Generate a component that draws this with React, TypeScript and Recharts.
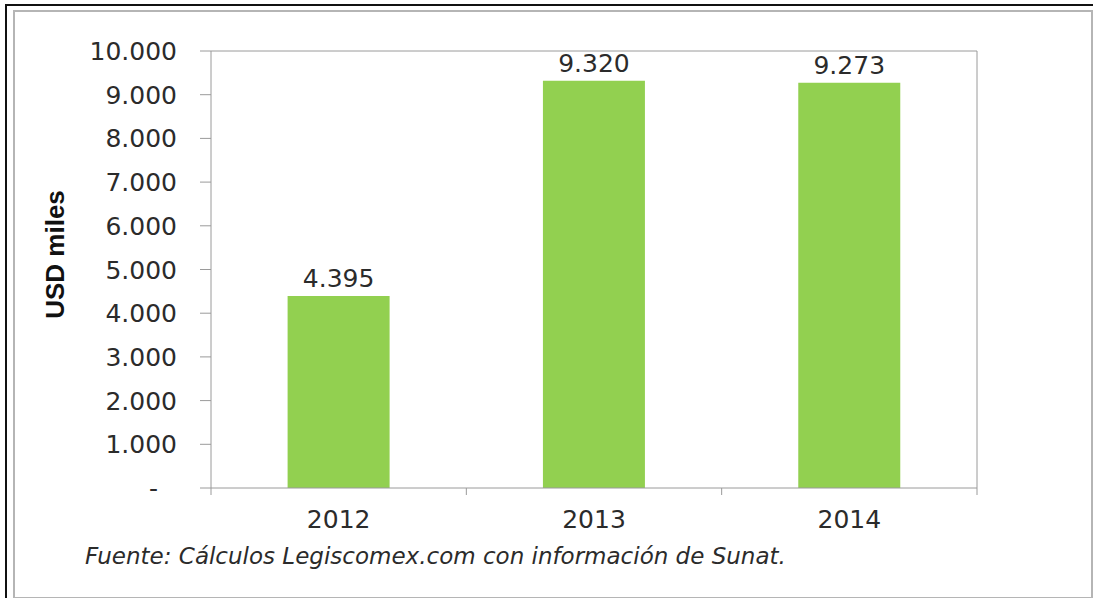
import { BarChart, Bar, XAxis, YAxis, LabelList, ReferenceLine } from 'recharts'

const years = ['2012', '2013', '2014']
const values = [4395, 9320, 9273]
const yTicks = [0, 1000, 2000, 3000, 4000, 5000, 6000, 7000, 8000, 9000, 10000]

const data = years.map((year, i) => ({ year, value: values[i] }))

const FONT = '"DejaVu Sans", Verdana, sans-serif'
const TEXT = '#2b2b2b'
const AXIS = '#9a9a9a'

const fmt = (v: number) => (v === 0 ? '-' : v.toLocaleString('de-DE'))

function YTick({ x, y, payload }: any) {
  const zero = payload.value === 0
  return (
    <text
      x={zero ? x - 19 : x}
      y={y}
      dy="0.36em"
      textAnchor="end"
      fill={TEXT}
      fontSize={25}
      fontFamily={FONT}
    >
      {fmt(payload.value)}
    </text>
  )
}

function XTick({ x, y, payload, index, visibleTicksCount, width }: any) {
  const half = payload.offset ?? width / visibleTicksCount / 2
  const last = index === visibleTicksCount - 1
  return (
    <g>
      <line x1={x - half} x2={x - half} y1={y} y2={y + 7} stroke={AXIS} />
      {last && <line x1={x + half} x2={x + half} y1={y} y2={y + 7} stroke={AXIS} />}
      <text x={x} y={y + 22} dy="0.71em" textAnchor="middle" fill={TEXT} fontSize={25} fontFamily={FONT}>
        {payload.value}
      </text>
    </g>
  )
}

export default function App() {
  return (
    <div style={{ position: 'absolute', left: 0, top: 0, width: 1093, height: 598, background: '#fff', overflow: 'hidden' }}>
      <div style={{ position: 'absolute', left: 5, top: 4, width: 1110, height: 620, border: '2px solid #111' }} />
      <div style={{ position: 'absolute', left: 13, top: 10, width: 1076, height: 585, border: '2px solid #b5b5b5' }} />
      <div style={{ position: 'absolute', left: 0, top: 0 }}>
        <BarChart
          width={1093}
          height={598}
          data={data}
          margin={{ top: 51, right: 115, left: 30, bottom: 50 }}
          barCategoryGap="30%"
        >
          <XAxis
            dataKey="year"
            axisLine={{ stroke: AXIS }}
            tickLine={false}
            tickSize={0}
            tickMargin={0}
            height={60}
            tick={<XTick />}
            interval={0}
          />
          <YAxis
            domain={[0, 10000]}
            ticks={yTicks}
            interval={0}
            width={181}
            tickSize={11}
            tickMargin={23}
            axisLine={{ stroke: AXIS }}
            tickLine={{ stroke: AXIS }}
            tick={<YTick />}
            label={{
              content: ({ viewBox }: any) => {
                const cx = 55
                const cy = viewBox.y + viewBox.height / 2 - 15
                return (
                  <text
                    x={cx}
                    y={cy}
                    transform={`rotate(-90 ${cx} ${cy})`}
                    textAnchor="middle"
                    dominantBaseline="central"
                    fontFamily='"Liberation Sans", Arial, sans-serif'
                    fontWeight="bold"
                    fontSize={26}
                    fill="#111"
                  >
                    USD miles
                  </text>
                )
              },
            }}
          />
          <YAxis yAxisId="r" orientation="right" width={1} tick={false} tickLine={false} axisLine={{ stroke: AXIS }} domain={[0, 10000]} />
          <ReferenceLine y={10000} stroke={AXIS} />
          <Bar dataKey="value" fill="#92d050" isAnimationActive={false}>
            <LabelList
              dataKey="value"
              position="top"
              offset={9}
              formatter={(v: any) => fmt(Number(v))}
              fill={TEXT}
              fontSize={25}
              fontFamily={FONT}
            />
          </Bar>
        </BarChart>
      </div>
      <div
        style={{
          position: 'absolute',
          left: 85,
          top: 543,
          fontFamily: FONT,
          fontStyle: 'italic',
          fontSize: 23,
          color: TEXT,
          whiteSpace: 'nowrap',
        }}
      >
        Fuente: Cálculos Legiscomex.com con información de Sunat.
      </div>
    </div>
  )
}
